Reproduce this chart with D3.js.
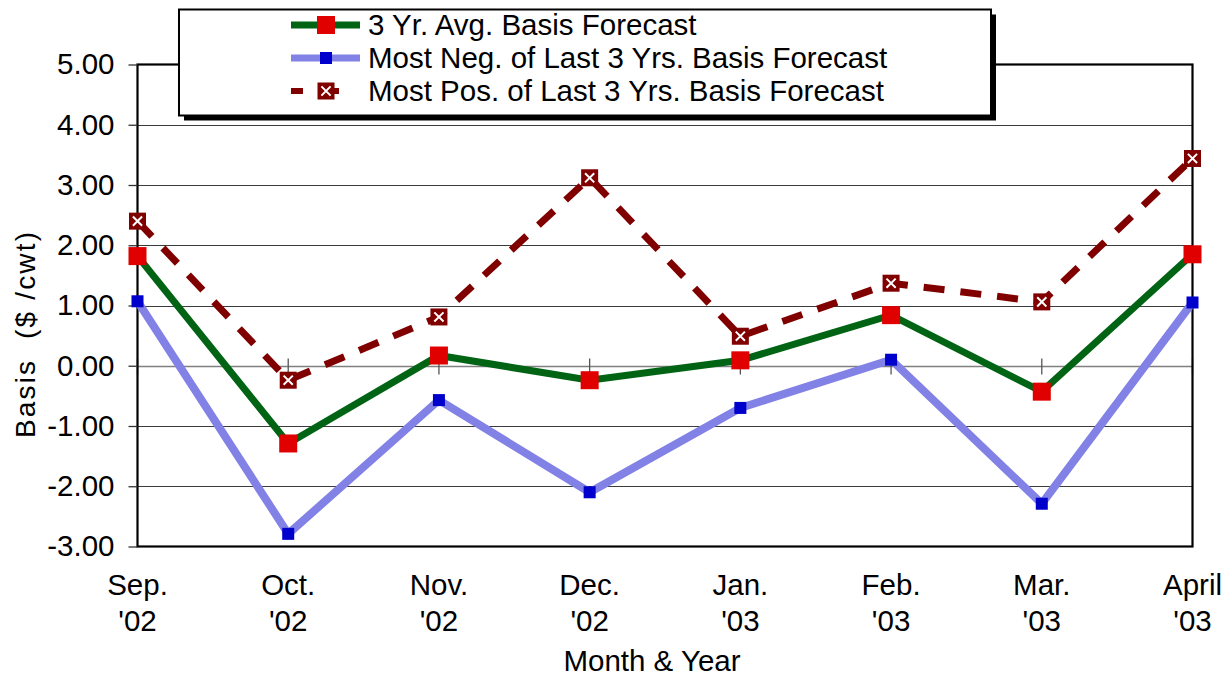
<!DOCTYPE html>
<html>
<head>
<meta charset="utf-8">
<script src="https://cdn.jsdelivr.net/npm/d3@7"></script>
<style>
  html, body { margin: 0; padding: 0; background: #fff; }
  svg { display: block; font-family: "Liberation Sans", Arial, sans-serif; }
</style>
</head>
<body>
<svg id="chart" width="1231" height="677"></svg>
<script>
// ---- data ----
const months = ["Sep.", "Oct.", "Nov.", "Dec.", "Jan.", "Feb.", "Mar.", "April"];
const years  = ["'02", "'02", "'02", "'02", "'03", "'03", "'03", "'03"];
const avgBasis = [1.82, -1.29, 0.17, -0.24, 0.09, 0.84, -0.43, 1.85];
const mostNeg  = [1.07, -2.79, -0.57, -2.10, -0.70, 0.10, -2.29, 1.05];
const mostPos  = [2.40, -0.24, 0.81, 3.12, 0.49, 1.37, 1.06, 3.44];
const seriesNames = [
  "3 Yr. Avg. Basis Forecast",
  "Most Neg. of Last 3 Yrs. Basis Forecast",
  "Most Pos. of Last 3 Yrs. Basis Forecast"
];
const yTicks = [5, 4, 3, 2, 1, 0, -1, -2, -3];

// ---- layout ----
const svg = d3.select("#chart");
const L = 137.5, R = 1192.5, T = 64.5, B = 546.5;
const x = d3.scalePoint().domain(d3.range(months.length)).range([L, R]);
const y = d3.scaleLinear().domain([-3, 5]).range([B, T]);
const FS = 29.5;

// gridlines
svg.append("g").selectAll("line")
  .data(yTicks.filter(v => v > -3 && v < 5 && v !== 0))
  .join("line")
  .attr("x1", L).attr("x2", R)
  .attr("y1", d => Math.round(y(d)) + 0.5).attr("y2", d => Math.round(y(d)) + 0.5)
  .attr("stroke", "#3c3c3c").attr("stroke-width", 1.2);

// category axis at zero
const y0 = Math.round(y(0)) + 0.5;
svg.append("line").attr("x1", L).attr("x2", R).attr("y1", y0).attr("y2", y0)
  .attr("stroke", "#808080").attr("stroke-width", 1.5);
svg.append("g").selectAll("line").data(d3.range(months.length)).join("line")
  .attr("x1", d => x(d)).attr("x2", d => x(d))
  .attr("y1", y0 - 8).attr("y2", y0 + 8)
  .attr("stroke", "#555").attr("stroke-width", 1.3);

// plot frame
svg.append("rect").attr("x", L).attr("y", T).attr("width", R - L).attr("height", B - T)
  .attr("fill", "none").attr("stroke", "#000").attr("stroke-width", 2.2);

// y axis ticks + labels
const yAxis = d3.axisLeft(y).tickValues(yTicks).tickFormat(d => d.toFixed(2)).tickSize(9).tickPadding(14);
const ga = svg.append("g").attr("transform", `translate(${L},0)`).call(yAxis);
ga.select(".domain").remove();
ga.selectAll(".tick line").attr("stroke", "#333").attr("stroke-width", 1.3);
ga.selectAll(".tick text").attr("font-size", FS).attr("fill", "#000")
  .attr("font-family", "Liberation Sans, Arial, sans-serif");

// x labels
const xl = svg.append("g").selectAll("text").data(d3.range(months.length)).join("text")
  .attr("x", d => x(d)).attr("y", 595)
  .attr("text-anchor", "middle").attr("font-size", FS).attr("fill", "#000");
xl.append("tspan").attr("x", d => x(d)).text(d => months[d]);
xl.append("tspan").attr("x", d => x(d)).attr("dy", 36).text(d => years[d]);

// axis titles
svg.append("text").attr("x", 652).attr("y", 671).attr("text-anchor", "middle")
  .attr("font-size", FS).text("Month & Year");
svg.append("text").attr("transform", "translate(35,335) rotate(-90)")
  .attr("text-anchor", "middle").attr("font-size", 28).attr("xml:space", "preserve")
  .attr("textLength", 206).attr("lengthAdjust", "spacing")
  .text("Basis  ($ /cwt)");

// ---- series ----
const line = d3.line().x((d, i) => x(i)).y(d => y(d));
const COL_GREEN = "#006414", COL_RED = "#E00000", COL_PERI = "#8282E6",
      COL_BLUE = "#0000CC", COL_MAROON = "#800000";

function sqMarker(g, cx, cy, s, fill) {
  g.append("rect").attr("x", cx - s / 2).attr("y", cy - s / 2)
    .attr("width", s).attr("height", s).attr("fill", fill);
}
function xMarker(g, cx, cy, s) {
  g.append("rect").attr("x", cx - s / 2).attr("y", cy - s / 2)
    .attr("width", s).attr("height", s).attr("fill", COL_MAROON);
  const k = s * 0.27;
  g.append("path").attr("d", `M${cx - k},${cy - k}L${cx + k},${cy + k}M${cx - k},${cy + k}L${cx + k},${cy - k}`)
    .attr("stroke", "#fff").attr("stroke-width", 2);
}

const gS = svg.append("g");
gS.append("path").datum(avgBasis).attr("d", line).attr("fill", "none")
  .attr("stroke", COL_GREEN).attr("stroke-width", 7).attr("stroke-linejoin", "miter");
gS.append("path").datum(mostNeg).attr("d", line).attr("fill", "none")
  .attr("stroke", COL_PERI).attr("stroke-width", 8);
gS.append("path").datum(mostPos).attr("d", line).attr("fill", "none")
  .attr("stroke", COL_MAROON).attr("stroke-width", 7).attr("stroke-dasharray", "21,16");

avgBasis.forEach((v, i) => sqMarker(gS, x(i), y(v), 18, COL_RED));
mostNeg.forEach((v, i) => sqMarker(gS, x(i), y(v), 12, COL_BLUE));
mostPos.forEach((v, i) => xMarker(gS, x(i), y(v), 17));

// ---- legend ----
const lg = svg.append("g");
const lx = 179, ly = 9.5, lw = 812, lh = 106;
lg.append("rect").attr("x", lx + 5).attr("y", ly + 5).attr("width", lw).attr("height", lh).attr("fill", "#000");
lg.append("rect").attr("x", lx).attr("y", ly).attr("width", lw).attr("height", lh)
  .attr("fill", "#fff").attr("stroke", "#000").attr("stroke-width", 2);
const rowsY = [25, 58, 91];
const sx1 = 291, sx2 = 360, smx = 326, tx = 368;
// row 1
lg.append("line").attr("x1", sx1).attr("x2", sx2).attr("y1", rowsY[0]).attr("y2", rowsY[0])
  .attr("stroke", COL_GREEN).attr("stroke-width", 7);
sqMarker(lg, smx, rowsY[0], 18, COL_RED);
// row 2
lg.append("line").attr("x1", sx1).attr("x2", sx2).attr("y1", rowsY[1]).attr("y2", rowsY[1])
  .attr("stroke", COL_PERI).attr("stroke-width", 7);
sqMarker(lg, smx, rowsY[1], 12, COL_BLUE);
// row 3
lg.append("line").attr("x1", sx1).attr("x2", sx2).attr("y1", rowsY[2]).attr("y2", rowsY[2])
  .attr("stroke", COL_MAROON).attr("stroke-width", 6).attr("stroke-dasharray", "12,24");
lg.append("line").attr("x1", 330).attr("x2", 337).attr("y1", rowsY[2]).attr("y2", rowsY[2])
  .attr("stroke", COL_MAROON).attr("stroke-width", 6);
xMarker(lg, smx, rowsY[2], 17);

lg.selectAll("text.lt").data(seriesNames).join("text").attr("class", "lt")
  .attr("x", tx).attr("y", (d, i) => rowsY[i] + 10).attr("font-size", FS).text(d => d);
</script>
</body>
</html>
